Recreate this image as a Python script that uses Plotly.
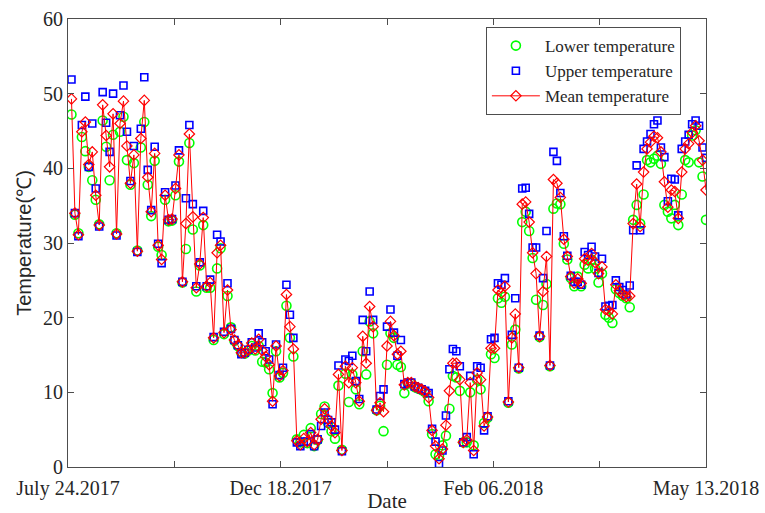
import plotly.graph_objects as go

# ---------------- data ----------------
upper = [51.9, 34.0, 30.9, 45.8, 49.6, 40.2, 46.0, 37.3, 32.2, 50.2,
         46.1, 42.2, 50.0, 31.0, 47.1, 51.1, 44.9, 38.3, 43.0, 28.8,
         45.3, 52.2, 39.8, 34.4, 42.9, 29.9, 27.3, 36.8, 33.1, 33.2,
         37.7, 42.4, 24.8, 36.0, 45.8, 35.2, 24.2, 27.4, 34.3, 24.2,
         25.1, 17.4, 31.1, 30.2, 18.1, 24.6, 18.5, 17.0, 16.3, 15.1,
         15.3, 15.7, 16.7, 16.0, 17.9, 16.7, 15.5, 14.4, 8.4, 16.4,
         12.3, 13.3, 24.4, 20.4, 17.3, 3.3, 2.8, 3.4, 3.4, 4.4,
         2.8, 3.7, 5.5, 7.3, 6.3, 6.0, 5.0, 13.6, 2.1, 14.4,
         14.2, 14.9, 11.5, 9.1, 19.7, 15.5, 23.5, 19.7, 7.7, 9.5,
         10.4, 18.8, 21.1, 18.0, 14.9, 17.0, 11.1, 11.3, 11.3, 10.8,
         10.6, 10.4, 10.2, 9.9, 5.1, 3.4, 0.4, 2.2, 6.9, 13.1,
         15.8, 15.5, 13.5, 3.3, 4.0, 12.2, 1.7, 13.5, 13.3, 4.9,
         6.8, 17.1, 17.3, 24.6, 24.4, 25.3, 8.8, 17.7, 22.6, 13.3,
         37.3, 37.4, 33.9, 29.4, 29.4, 17.6, 25.3, 31.6, 13.6, 42.2,
         41.0, 36.7, 30.9, 28.3, 25.6, 24.8, 24.8, 24.4, 28.8, 28.4,
         29.5, 28.2, 26.0, 27.9, 21.5, 21.6, 21.7, 25.0, 24.1, 23.7,
         23.1, 24.3, 31.7, 40.4, 31.7, 42.6, 43.6, 44.6, 45.9, 46.4,
         42.8, 41.5, 35.6, 38.6, 38.5, 33.7, 42.6, 43.6, 44.5, 45.9,
         46.4, 45.7, 42.8, 41.4]

mean = [49.3, 34.0, 31.1, 44.9, 46.2, 40.5, 42.2, 36.4, 32.4, 48.5,
        44.4, 40.2, 47.3, 31.2, 46.0, 49.0, 43.0, 38.0, 41.8, 28.9,
        44.0, 49.1, 38.8, 34.2, 42.0, 29.7, 27.8, 36.4, 33.1, 33.2,
        37.3, 41.8, 24.8, 32.6, 44.6, 33.5, 24.0, 27.2, 33.4, 24.2,
        24.7, 17.3, 28.7, 29.7, 18.0, 23.7, 18.4, 17.0, 16.3, 15.3,
        15.3, 15.7, 16.6, 15.8, 17.1, 15.6, 14.8, 13.7, 8.8, 16.2,
        12.2, 12.9, 23.1, 18.8, 15.8, 3.5, 3.0, 3.8, 3.4, 4.6,
        3.0, 3.7, 6.4, 7.8, 6.4, 5.5, 4.6, 12.4, 2.2, 13.5,
        11.3, 13.3, 11.3, 8.8, 17.5, 13.9, 21.5, 18.8, 7.6, 8.6,
        7.4, 16.2, 19.5, 17.6, 15.1, 15.5, 11.0, 11.3, 11.3, 10.8,
        10.6, 10.4, 10.1, 9.3, 4.9, 2.8, 1.1, 2.4, 5.6, 10.2,
        13.9, 13.9, 11.7, 3.3, 3.6, 11.3, 2.2, 12.6, 11.7, 5.5,
        6.7, 15.9, 15.9, 23.7, 23.3, 24.2, 8.7, 17.3, 20.5, 13.3,
        35.2, 35.5, 32.8, 28.7, 25.9, 17.5, 23.5, 28.2, 13.6, 38.5,
        38.0, 36.1, 30.5, 28.2, 25.5, 24.6, 25.2, 24.6, 27.9, 27.7,
        28.6, 27.4, 25.9, 26.8, 21.1, 20.9, 20.5, 24.4, 23.6, 23.1,
        22.8, 22.9, 32.6, 37.9, 32.2, 39.5, 42.6, 43.5, 44.3, 44.1,
        42.2, 38.2, 34.8, 37.1, 36.9, 33.3, 39.5, 42.6, 43.3, 44.8,
        45.7, 43.7, 41.1, 37.1]

lower = [47.2, 33.8, 31.3, 44.2, 42.3, 40.2, 38.4, 35.8, 32.5, 46.4,
         42.9, 38.4, 44.5, 31.3, 44.9, 46.9, 41.1, 37.8, 40.7, 29.0,
         42.8, 46.2, 37.8, 33.6, 41.0, 29.5, 28.4, 35.8, 32.9, 33.0,
         36.4, 40.9, 24.7, 29.2, 43.4, 31.8, 23.5, 27.0, 32.4, 24.0,
         24.0, 17.0, 26.6, 29.3, 17.8, 22.9, 18.7, 16.9, 16.2, 15.3,
         15.2, 15.6, 16.2, 15.6, 16.2, 14.1, 14.0, 13.1, 9.9, 15.5,
         12.0, 12.6, 21.6, 17.3, 14.8, 3.7, 3.3, 4.3, 3.2, 5.2,
         2.8, 3.6, 7.1, 8.1, 5.9, 4.8, 3.8, 10.9, 2.3, 12.5,
         8.7, 12.4, 10.4, 8.4, 15.5, 12.4, 19.5, 17.9, 7.6, 8.2,
         4.8, 13.7, 17.9, 17.3, 13.7, 13.4, 9.9, 11.2, 11.2, 10.7,
         10.5, 10.3, 10.0, 8.8, 4.4, 1.7, 1.5, 2.9, 4.2, 7.8,
         12.2, 12.0, 10.2, 3.3, 3.3, 10.0, 2.9, 11.7, 10.4, 5.9,
         6.6, 15.1, 14.6, 22.6, 22.0, 22.8, 8.6, 16.4, 18.4, 13.2,
         32.8, 34.2, 31.6, 28.0, 22.4, 17.4, 21.7, 24.5, 13.5, 34.6,
         35.3, 35.2, 29.9, 27.8, 25.3, 24.2, 25.5, 24.2, 27.1, 26.6,
         27.8, 26.6, 24.7, 25.9, 20.4, 20.0, 19.3, 23.8, 23.3, 22.9,
         22.6, 21.4, 33.1, 35.1, 32.6, 36.5, 41.1, 40.8, 41.3, 41.7,
         40.6, 35.1, 34.2, 33.3, 35.1, 32.4, 36.5, 41.1, 40.8, 44.4,
         45.1, 40.8, 38.9, 33.1]

tick_labels = ["July 24.2017", "", "Dec 18.2017", "", "Feb 06.2018", "", "May 13.2018"]

series_names = ["Lower temperature", "Upper temperature", "Mean temperature"]

# ---------------- figure ----------------
n = len(mean)
idx = list(range(1, n + 1))
n_ticks = len(tick_labels)
tick_vals = [n * k / (n_ticks - 1) for k in range(n_ticks)]

serif = "Liberation Serif, Times New Roman, serif"
axis_col = "#4d4d4d"
text_col = "#262626"

fig = go.Figure()
fig.add_trace(go.Scatter(
    x=idx, y=lower, mode="markers", name=series_names[0],
    marker=dict(symbol="circle-open", size=9, color="#00ff00", line=dict(width=1.6)),
))
fig.add_trace(go.Scatter(
    x=idx, y=upper, mode="markers", name=series_names[1],
    marker=dict(symbol="square-open", size=7, color="#0000ff", line=dict(width=1.6)),
))
fig.add_trace(go.Scatter(
    x=idx, y=mean, mode="lines+markers", name=series_names[2],
    line=dict(color="#ff0000", width=1),
    marker=dict(symbol="diamond-open", size=8, color="#ff0000", line=dict(width=1.2)),
))

fig.update_layout(
    width=765, height=513,
    margin=dict(l=68, r=59, t=19, b=46),
    paper_bgcolor="white", plot_bgcolor="white",
    font=dict(family=serif, size=20, color=text_col),
    showlegend=True,
    legend=dict(
        x=0.655, y=0.982, xanchor="left", yanchor="top",
        bgcolor="white", bordercolor=axis_col, borderwidth=1,
        font=dict(family=serif, size=17, color=text_col),
        tracegroupgap=0, itemwidth=48,
    ),
)

fig.update_xaxes(
    range=[0, n], tickvals=tick_vals, ticktext=tick_labels,
    showline=True, linecolor=axis_col, linewidth=1, mirror="ticks",
    ticks="inside", ticklen=6, tickcolor=axis_col, tickwidth=1,
    showgrid=False, zeroline=False,
    tickfont=dict(family=serif, size=20, color=text_col),
    ticklabelstandoff=3,
    title=dict(text="Date", font=dict(family=serif, size=21, color=text_col), standoff=0),
    automargin=False,
)
fig.update_yaxes(
    range=[0, 60], dtick=10, tick0=0,
    showline=True, linecolor=axis_col, linewidth=1, mirror="ticks",
    ticks="inside", ticklen=6, tickcolor=axis_col, tickwidth=1,
    showgrid=False, zeroline=False,
    tickfont=dict(family=serif, size=20, color=text_col),
    title=dict(text="Temperature(℃)", font=dict(family="Liberation Sans, Arial, sans-serif", size=20, color=text_col), standoff=6),
    automargin=False,
)

fig.write_html("out.html")
